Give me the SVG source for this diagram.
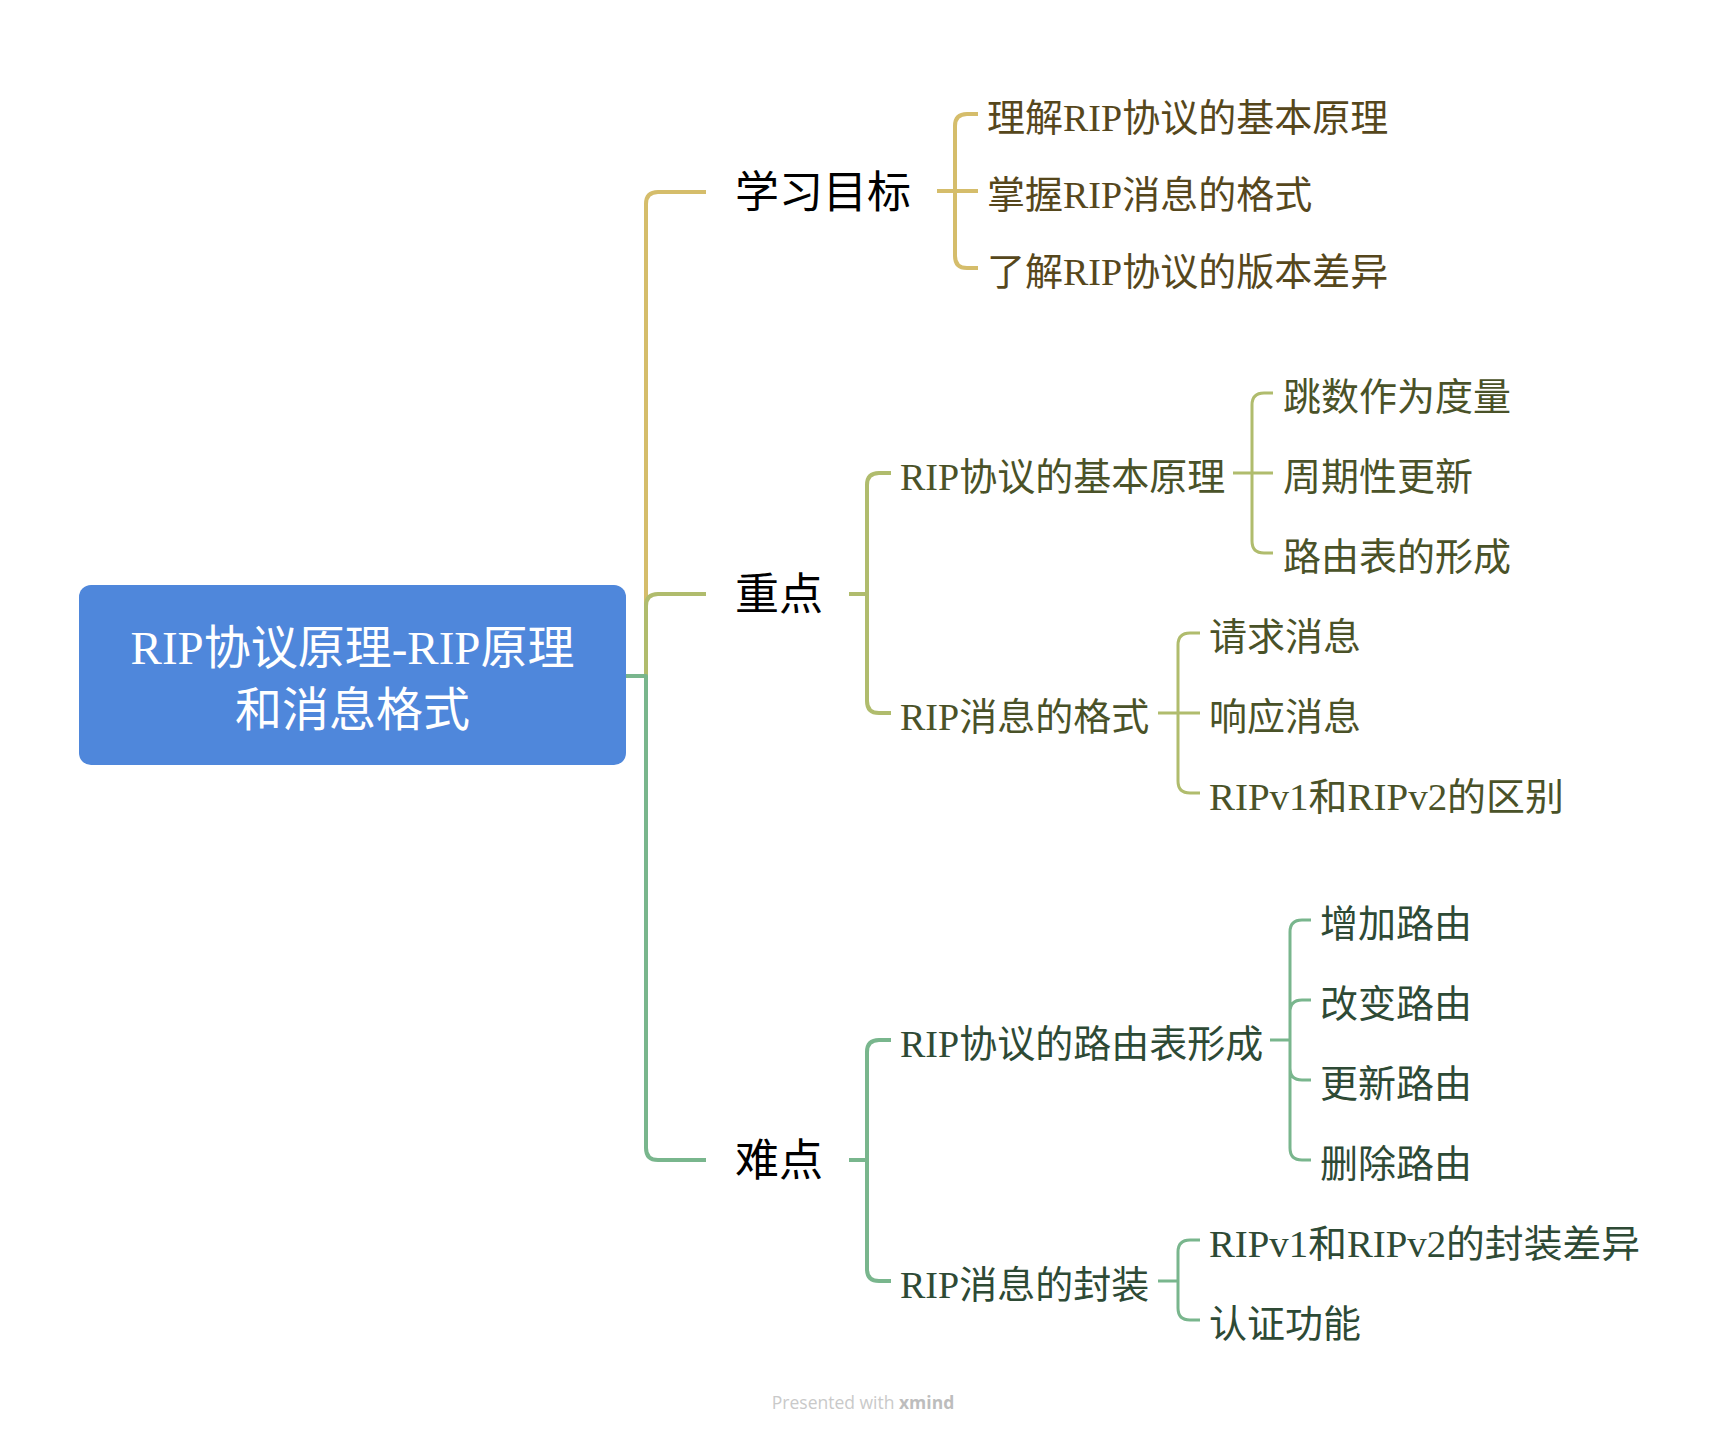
<svg xmlns="http://www.w3.org/2000/svg" width="1729" height="1435" viewBox="0 0 1729 1435">
<style>
.c{fill:none;stroke-linecap:butt;stroke-linejoin:round}
.gold{stroke:#D5BD6B}
.olive{stroke:#B0BC6D}
.green{stroke:#79B68D}
.w4{stroke-width:4}
.w3{stroke-width:3}
.root{font-family:"Liberation Serif","Noto Sans CJK SC",serif;font-size:47px;fill:#ffffff;text-anchor:middle}
.l1{font-family:"Noto Sans CJK SC","Noto Sans",sans-serif;font-size:44px;fill:#000000}
.l2{font-family:"Liberation Serif","Noto Sans CJK SC",serif;font-size:38px}
.tg{fill:#56471C}
.to{fill:#4A5228}
.tn{fill:#2E4A35}
</style>
<rect width="1729" height="1435" fill="#ffffff"/>
<g id="connectors">
<path class="c gold w4" d="M626,676 H646 V204 Q646,192 658,192 H706"/>
<path class="c olive w4" d="M626,676 H646 V606 Q646,594 658,594 H706"/>
<path class="c green w4" d="M626,676 H646 V1148 Q646,1160 658,1160 H706"/>
<path class="c gold w4" d="M937,191 H978 M955,191 V126 Q955,114 967,114 H978 M955,191 V256 Q955,268 967,268 H978"/>
<path class="c olive w4" d="M849,594 H867 M867,594 V485 Q867,473 879,473 H891 M867,594 V701 Q867,713 879,713 H891"/>
<path class="c olive w3" d="M1233,473 H1273 M1252,473 V405 Q1252,393 1264,393 H1273 M1252,473 V541 Q1252,553 1264,553 H1273"/>
<path class="c olive w3" d="M1158,713 H1200 M1178,713 V645 Q1178,633 1190,633 H1200 M1178,713 V781 Q1178,793 1190,793 H1200"/>
<path class="c green w4" d="M849,1160 H867 V1052 Q867,1040 879,1040 H891 M867,1160 V1269 Q867,1281 879,1281 H891"/>
<path class="c green w3" d="M1270,1040 H1290 M1290,1040 V932 Q1290,920 1302,920 H1311 M1290,1040 V1012 Q1290,1000 1302,1000 H1311 M1290,1040 V1068 Q1290,1080 1302,1080 H1311 M1290,1040 V1148 Q1290,1160 1302,1160 H1311"/>
<path class="c green w3" d="M1158,1281 H1178 M1178,1281 V1252 Q1178,1240 1190,1240 H1200 M1178,1281 V1308 Q1178,1320 1190,1320 H1200"/>
</g>
<g id="root">
<rect x="79" y="585" width="547" height="180" rx="12" ry="12" fill="#4F87DB"/>
<text class="root" x="352.5" y="664">RIP协议原理-RIP原理</text>
<text class="root" x="352.5" y="726">和消息格式</text>
</g>
<g id="n-goal"><text class="l1" x="735" y="208">学习目标</text></g>
<g id="n-goal-1"><text class="l2 tg" x="987" y="130.5">理解RIP协议的基本原理</text></g>
<g id="n-goal-2"><text class="l2 tg" x="987" y="207.5">掌握RIP消息的格式</text></g>
<g id="n-goal-3"><text class="l2 tg" x="987" y="284.5">了解RIP协议的版本差异</text></g>
<g id="n-key"><text class="l1" x="735" y="610">重点</text></g>
<g id="n-key-1"><text class="l2 to" x="900" y="489.5">RIP协议的基本原理</text></g>
<g id="n-key-1-1"><text class="l2 to" x="1283" y="409.5">跳数作为度量</text></g>
<g id="n-key-1-2"><text class="l2 to" x="1283" y="489.5">周期性更新</text></g>
<g id="n-key-1-3"><text class="l2 to" x="1283" y="569.5">路由表的形成</text></g>
<g id="n-key-2"><text class="l2 to" x="900" y="729.5">RIP消息的格式</text></g>
<g id="n-key-2-1"><text class="l2 to" x="1209" y="649.5">请求消息</text></g>
<g id="n-key-2-2"><text class="l2 to" x="1209" y="729.5">响应消息</text></g>
<g id="n-key-2-3"><text class="l2 to" x="1209" y="809.5" textLength="355" lengthAdjust="spacingAndGlyphs">RIPv1和RIPv2的区别</text></g>
<g id="n-hard"><text class="l1" x="735" y="1176">难点</text></g>
<g id="n-hard-1"><text class="l2 tn" x="900" y="1056.5">RIP协议的路由表形成</text></g>
<g id="n-hard-1-1"><text class="l2 tn" x="1320" y="936.5">增加路由</text></g>
<g id="n-hard-1-2"><text class="l2 tn" x="1320" y="1016.5">改变路由</text></g>
<g id="n-hard-1-3"><text class="l2 tn" x="1320" y="1096.5">更新路由</text></g>
<g id="n-hard-1-4"><text class="l2 tn" x="1320" y="1176.5">删除路由</text></g>
<g id="n-hard-2"><text class="l2 tn" x="900" y="1297.5">RIP消息的封装</text></g>
<g id="n-hard-2-1"><text class="l2 tn" x="1209" y="1256.5" textLength="431" lengthAdjust="spacingAndGlyphs">RIPv1和RIPv2的封装差异</text></g>
<g id="n-hard-2-2"><text class="l2 tn" x="1209" y="1336.5">认证功能</text></g>
<g id="footer"><text x="863" y="1409" text-anchor="middle" font-family="'Open Sans','Noto Sans',sans-serif" font-size="17.5" fill="#C9C9C9">Presented with <tspan font-weight="bold" fill="#BDBDBD">xmind</tspan></text></g>
</svg>
